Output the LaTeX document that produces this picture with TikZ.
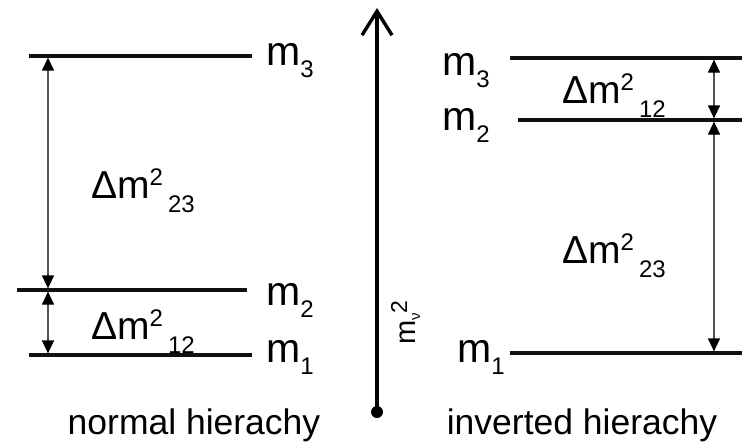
\documentclass[tikz,border=0pt]{standalone}
\usepackage{fontspec}
\setmainfont{Liberation Sans}
\usepackage{xcolor}
\usetikzlibrary{arrows.meta}
\definecolor{lvlDark}{HTML}{111111}
\definecolor{gapGrey}{HTML}{555555}
\newcommand{\msub}[2]{#1\raisebox{-12pt}{\fontsize{24}{24}\selectfont #2}}
\newcommand{\dmsub}[1]{Δm\raisebox{13pt}{\fontsize{24}{24}\selectfont 2}\kern5pt\raisebox{-14pt}{\fontsize{24}{24}\selectfont #1}}
\newcommand{\mlevel}[5]{%
\draw[lvl] (#1,#3) -- (#2,#3);%
\coordinate (#4) at (#5,#3);}
\tikzset{
 lvl/.style={line width=3.2pt, lvlDark},
 dmarrow/.style={{Triangle[length=13pt,width=12pt,color=black]}-{Triangle[length=13pt,width=12pt,color=black]}, gapGrey, line width=1.2pt, shorten <=1.6pt, shorten >=1.6pt},
 mtext/.style={anchor=base west, inner sep=0pt, font=\fontsize{41}{41}\selectfont},
 dmtext/.style={anchor=base west, inner sep=0pt, font=\fontsize{39}{39}\selectfont},
 hiertext/.style={anchor=base, inner sep=0pt, font=\fontsize{35.5}{36}\selectfont}
}

\begin{document}
\begin{tikzpicture}[x=1pt, y=-1pt]
\useasboundingbox (0,0) rectangle (748,442);
\mlevel{29}{252}{56}{n3}{48}
\mlevel{17}{247}{290}{n2}{48}
\mlevel{29}{252}{355}{n1}{48}
\mlevel{510}{742}{58}{i3}{714}
\mlevel{518}{742}{120}{i2}{714}
\mlevel{510}{742}{353}{i1}{714}
\draw[dmarrow] (n2) -- (n3);
\draw[dmarrow] (n1) -- (n2);
\draw[dmarrow] (i2) -- (i3);
\draw[dmarrow] (i1) -- (i2);
\node[mtext] (nm3) at (266,65) {\msub{m}{3}};
\node[mtext] (nm2) at (266,305) {\msub{m}{2}};
\node[mtext] (nm1) at (266,362) {\msub{m}{1}};
\node[mtext] (im3) at (442,75) {\msub{m}{3}};
\node[mtext] (im2) at (442,130) {\msub{m}{2}};
\node[mtext] (im1) at (457,362) {\msub{m}{1}};
\node[dmtext] (ndm23) at (91,198) {\dmsub{23}};
\node[dmtext] (ndm12) at (91,339) {\dmsub{12}};
\node[dmtext] (idm12) at (562,103) {\dmsub{12}};
\node[dmtext] (idm23) at (562,263) {\dmsub{23}};
\node[circle, fill=black, inner sep=0pt, minimum size=12pt] (axbot) at (377,412) {};
\coordinate (axtop) at (377,8);
\draw[line width=3.4pt, -{Straight Barb[length=24pt,width=30pt]}] (axbot.center) -- (axtop);
\node[rotate=90, anchor=base west, inner sep=0pt, font=\fontsize{29}{29}\selectfont] (axlab) at (415,345) {m\raisebox{-5pt}{\fontsize{15}{15}\selectfont ν}\raisebox{8pt}{\fontsize{23}{23}\selectfont 2}};
\node[hiertext] (nlab) at (194,434) {normal hierachy};
\node[hiertext] (ilab) at (582,434) {inverted hierachy};
\end{tikzpicture}
\end{document}
